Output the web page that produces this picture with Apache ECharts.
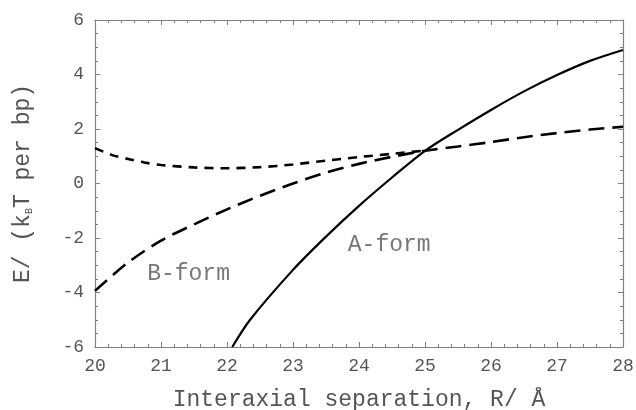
<!DOCTYPE html>
<html>
<head>
<meta charset="utf-8">
<script src="https://cdn.jsdelivr.net/npm/echarts@6/dist/echarts.min.js"></script>
<style>html,body{margin:0;padding:0;background:#fff}#c{width:636px;height:410px}</style>
</head>
<body>
<div id="c"></div>
<script>
// Data
var aFormR = [22.08, 22.35, 23.0, 23.5, 24.0, 24.5, 25.0, 25.5, 26.0, 26.5, 27.0, 27.5, 28.0];
var aFormE = [-6.0, -5.0, -3.17, -1.95, -0.82, 0.22, 1.2, 1.97, 2.7, 3.38, 3.98, 4.5, 4.9];

var bFormR = [20.0, 20.5, 21.0, 21.5, 22.0, 22.5, 23.0, 23.5, 24.0, 24.5, 25.0, 25.5, 26.0, 26.5, 27.0, 27.5, 28.0];
var bFormE = [-3.94, -2.9, -2.1, -1.5, -0.95, -0.45, 0.0, 0.4, 0.72, 0.98, 1.2, 1.36, 1.52, 1.7, 1.85, 1.98, 2.08];

var otherR = [20.0, 20.25, 20.5, 20.75, 21.0, 21.5, 22.0, 22.5, 23.0, 23.5, 24.0, 24.5, 25.05];
var otherE = [1.3, 1.05, 0.9, 0.77, 0.68, 0.59, 0.56, 0.6, 0.7, 0.84, 0.97, 1.09, 1.22];

var curveLabels = [[20.79, -3.3, 'B-form'], [23.83, -2.27, 'A-form']];

var xTicks = [20, 21, 22, 23, 24, 25, 26, 27, 28];
var yTicks = [-6, -4, -2, 0, 2, 4, 6];

function pairs(xs, ys) { return xs.map(function (x, i) { return [x, ys[i]]; }); }

var FONT = '"Liberation Mono", "Courier New", monospace';
var AXIS_COLOR = '#808080';
var TEXT_COLOR = '#555';

function baseAxis(extra) {
  var o = {
    type: 'value',
    axisLine: { show: true, onZero: false, lineStyle: { color: AXIS_COLOR, width: 1.2 } },
    axisTick: { show: true, inside: true, length: 5, lineStyle: { color: AXIS_COLOR, width: 1 } },
    splitLine: { show: false },
    axisLabel: { show: true, color: TEXT_COLOR, fontFamily: FONT, fontSize: 18 }
  };
  for (var k in extra) o[k] = extra[k];
  return o;
}

var chart = echarts.init(document.getElementById('c'), null, { renderer: 'canvas' });
chart.setOption({
  animation: false,
  backgroundColor: '#fff',
  grid: { left: 95, right: 13, top: 20, bottom: 63, containLabel: false, outerBoundsMode: 'none' },
  xAxis: [
    baseAxis({
      position: 'bottom', min: xTicks[0], max: xTicks[xTicks.length - 1], interval: 1,
      minorTick: { show: true, splitNumber: 5, length: 3, lineStyle: { color: AXIS_COLOR } },
      axisLabel: { color: TEXT_COLOR, fontFamily: FONT, fontSize: 18, margin: 10 },
      name: 'Interaxial separation, R/ Å', nameLocation: 'middle', nameGap: 41,
      nameTextStyle: { color: TEXT_COLOR, fontFamily: FONT, fontSize: 23 }
    }),
    baseAxis({
      position: 'top', min: xTicks[0], max: xTicks[xTicks.length - 1], interval: 1,
      minorTick: { show: true, splitNumber: 5, length: 3, lineStyle: { color: AXIS_COLOR } },
      axisLabel: { show: false }
    })
  ],
  yAxis: [
    baseAxis({
      position: 'left', min: yTicks[0], max: yTicks[yTicks.length - 1], interval: 2,
      minorTick: { show: true, splitNumber: 4, length: 3, lineStyle: { color: AXIS_COLOR } },
      axisLabel: { color: TEXT_COLOR, fontFamily: FONT, fontSize: 18, margin: 11 },
      name: 'E/ (k{s|B}T per bp)', nameLocation: 'middle', nameGap: 61, nameRotate: 90,
      nameTextStyle: {
        color: TEXT_COLOR, fontFamily: FONT, fontSize: 23,
        rich: { s: { fontFamily: FONT, fontSize: 10, color: TEXT_COLOR, verticalAlign: 'bottom', lineHeight: 23, padding: [10, 0, 0, 0] } }
      }
    }),
    baseAxis({
      position: 'right', min: yTicks[0], max: yTicks[yTicks.length - 1], interval: 2,
      minorTick: { show: true, splitNumber: 4, length: 3, lineStyle: { color: AXIS_COLOR } },
      axisLabel: { show: false }
    })
  ],
  series: [
    {
      name: 'A-form', type: 'line', data: pairs(aFormR, aFormE), smooth: 0.3, showSymbol: false,
      lineStyle: { color: '#000', width: 2.2, type: 'solid' }, z: 3
    },
    {
      name: 'B-form', type: 'line', data: pairs(bFormR, bFormE), smooth: 0.3, showSymbol: false,
      lineStyle: { color: '#000', width: 2.6, type: [16, 8] }, z: 2
    },
    {
      name: 'other', type: 'line', data: pairs(otherR, otherE), smooth: 0.3, showSymbol: false,
      lineStyle: { color: '#000', width: 2.6, type: [9, 7] }, z: 2
    },
    {
      name: 'labels', type: 'scatter', data: curveLabels, symbolSize: 0,
      label: {
        show: true, position: 'right', distance: 0, color: TEXT_COLOR, fontFamily: FONT, fontSize: 23,
        formatter: function (p) { return p.data[2]; }
      }
    }
  ]
});
</script>
</body>
</html>
